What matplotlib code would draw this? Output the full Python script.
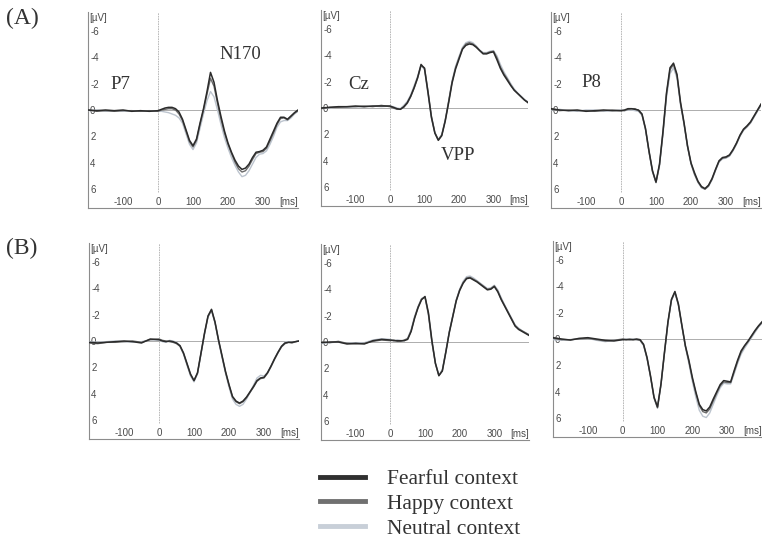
import matplotlib
matplotlib.use("Agg")
from matplotlib import pyplot as plt

plt.rcParams["font.family"] = ["Liberation Sans", "DejaVu Sans"]

# time axis (ms), coarse in the baseline
times = [-200, -175, -150, -125, -100, -75, -50, -25, 0,
         10, 20, 30, 40, 50, 60, 70, 80, 90, 100,
         110, 120, 130, 140, 150, 160, 170, 180, 190, 200,
         210, 220, 230, 240, 250, 260, 270, 280, 290, 300,
         310, 320, 330, 340, 350, 360, 370, 380, 390, 400]

# (A) P7
a_p7_fear = [0.0, 0.05, 0.0, 0.05, 0.0, 0.1, 0.05, 0.1, 0.05,
             -0.05, -0.15, -0.2, -0.2, -0.1, 0.15, 0.7, 1.5, 2.3, 2.7,
             2.2, 1.0, -0.1, -1.4, -2.85, -2.1, -0.7, 0.5, 1.6, 2.5,
             3.2, 3.8, 4.25, 4.5, 4.4, 4.1, 3.6, 3.2, 3.15, 3.05,
             2.8, 2.2, 1.6, 1.0, 0.55, 0.55, 0.7, 0.45, 0.2, 0.0]
a_p7_happy = [0.0, 0.1, 0.05, 0.1, 0.05, 0.05, 0.1, 0.05, 0.1,
              0.0, -0.05, -0.1, -0.1, 0.0, 0.3, 0.8, 1.6, 2.4, 2.8,
              2.3, 1.1, 0.0, -1.2, -2.4, -1.8, -0.5, 0.7, 1.75, 2.6,
              3.3, 3.95, 4.45, 4.7, 4.6, 4.25, 3.75, 3.3, 3.2, 3.15,
              2.9, 2.35, 1.75, 1.1, 0.65, 0.6, 0.75, 0.5, 0.25, 0.05]
a_p7_neut = [0.05, 0.0, 0.1, 0.05, 0.1, 0.05, 0.1, 0.05, 0.1,
             0.1, 0.15, 0.2, 0.3, 0.4, 0.6, 1.0, 1.8, 2.6, 3.0,
             2.5, 1.4, 0.3, -0.7, -1.4, -1.0, 0.0, 1.1, 2.1, 2.9,
             3.6, 4.2, 4.7, 5.05, 4.95, 4.6, 4.1, 3.6, 3.35, 3.3,
             3.1, 2.6, 2.0, 1.3, 0.9, 0.8, 0.8, 0.6, 0.3, 0.1]

# (A) Cz
a_cz_fear = [0.0, -0.05, -0.1, -0.1, -0.15, -0.1, -0.15, -0.15, -0.15,
             -0.05, 0.05, 0.1, -0.1, -0.4, -0.9, -1.55, -2.3, -3.3, -3.0,
             -1.2, 0.7, 1.9, 2.45, 2.1, 1.0, -0.4, -1.9, -2.95, -3.7,
             -4.45, -4.75, -4.85, -4.8, -4.6, -4.35, -4.1, -4.1, -4.2, -4.25,
             -3.65, -3.0, -2.5, -2.1, -1.7, -1.35, -1.1, -0.85, -0.6, -0.4]
a_cz_happy = [0.05, -0.05, -0.05, -0.1, -0.1, -0.15, -0.1, -0.2, -0.1,
              0.0, 0.1, 0.1, -0.05, -0.35, -0.85, -1.5, -2.25, -3.2, -3.05,
              -1.3, 0.6, 1.85, 2.4, 2.05, 0.95, -0.5, -2.0, -3.05, -3.8,
              -4.5, -4.85, -4.95, -4.85, -4.65, -4.35, -4.15, -4.15, -4.25, -4.3,
              -3.8, -3.1, -2.6, -2.2, -1.75, -1.35, -1.1, -0.85, -0.6, -0.45]
a_cz_neut = [0.0, 0.0, -0.1, -0.05, -0.1, -0.1, -0.15, -0.1, -0.15,
             -0.1, 0.0, 0.05, -0.2, -0.5, -1.0, -1.7, -2.4, -3.25, -2.9,
             -1.1, 0.75, 1.9, 2.4, 2.0, 0.9, -0.55, -2.05, -3.15, -3.9,
             -4.6, -4.95, -5.05, -4.95, -4.7, -4.4, -4.2, -4.2, -4.3, -4.35,
             -3.95, -3.3, -2.75, -2.3, -1.85, -1.45, -1.15, -0.9, -0.65, -0.45]

# (A) P8
a_p8_fear = [-0.1, 0.0, 0.05, 0.0, 0.1, 0.05, 0.0, 0.05, 0.05,
             0.0, -0.1, -0.1, -0.05, 0.0, 0.3, 1.4, 3.1, 4.6, 5.45,
             4.1, 1.6, -1.3, -3.2, -3.55, -2.7, -0.6, 0.95, 2.7, 4.0,
             4.75, 5.4, 5.8, 5.95, 5.7, 5.2, 4.5, 3.85, 3.6, 3.55,
             3.4, 3.0, 2.5, 1.9, 1.45, 1.2, 0.9, 0.45, 0.0, -0.45]
a_p8_happy = [-0.05, 0.05, 0.0, 0.05, 0.05, 0.1, 0.05, 0.0, 0.05,
              0.05, -0.05, -0.1, -0.1, 0.05, 0.35, 1.45, 3.15, 4.65, 5.5,
              4.15, 1.7, -1.2, -3.05, -3.45, -2.6, -0.5, 1.0, 2.75, 4.05,
              4.85, 5.45, 5.85, 6.0, 5.75, 5.25, 4.55, 3.9, 3.65, 3.6,
              3.45, 3.05, 2.55, 1.95, 1.5, 1.25, 0.95, 0.5, 0.05, -0.4]
a_p8_neut = [0.0, -0.05, 0.05, 0.1, 0.0, 0.0, 0.1, 0.05, 0.0,
             0.05, 0.0, 0.0, 0.05, 0.1, 0.4, 1.5, 3.2, 4.7, 5.5,
             4.25, 1.85, -0.95, -2.75, -3.2, -2.4, -0.4, 1.1, 2.8, 4.1,
             4.9, 5.5, 5.9, 6.0, 5.8, 5.3, 4.6, 3.95, 3.7, 3.65,
             3.5, 3.1, 2.6, 2.0, 1.55, 1.3, 1.0, 0.55, 0.1, -0.35]

# (B) P7
b_p7_fear = [0.1, 0.15, 0.1, 0.05, 0.0, 0.05, 0.15, -0.15, -0.1,
             0.0, 0.05, 0.0, 0.05, 0.15, 0.35, 0.9, 1.7, 2.5, 3.0,
             2.4, 0.9, -0.6, -1.9, -2.4, -1.45, -0.1, 1.1, 2.3, 3.3,
             4.2, 4.55, 4.7, 4.55, 4.25, 3.85, 3.45, 3.0, 2.8, 2.75,
             2.4, 1.9, 1.35, 0.85, 0.4, 0.15, 0.1, 0.1, 0.05, 0.0]
b_p7_happy = [0.15, 0.2, 0.1, 0.1, 0.05, 0.0, 0.1, -0.1, -0.15,
              -0.05, 0.0, 0.05, 0.1, 0.2, 0.4, 0.95, 1.75, 2.55, 3.0,
              2.45, 0.95, -0.55, -1.85, -2.35, -1.4, -0.05, 1.15, 2.35, 3.35,
              4.25, 4.6, 4.75, 4.6, 4.3, 3.9, 3.5, 3.05, 2.85, 2.8,
              2.45, 1.95, 1.4, 0.9, 0.45, 0.2, 0.1, 0.15, 0.05, 0.0]
b_p7_neut = [0.05, 0.1, 0.05, 0.0, 0.05, 0.1, 0.05, -0.1, -0.05,
             0.05, 0.1, -0.05, 0.0, 0.1, 0.4, 1.0, 1.85, 2.65, 3.1,
             2.5, 1.0, -0.5, -1.8, -2.3, -1.35, 0.0, 1.25, 2.45, 3.5,
             4.4, 4.8, 4.95, 4.8, 4.4, 3.9, 3.35, 2.8, 2.6, 2.65,
             2.4, 1.9, 1.35, 0.85, 0.4, 0.1, 0.05, 0.1, 0.05, 0.0]

# (B) Cz
b_cz_fear = [0.05, 0.0, 0.0, 0.15, 0.1, 0.15, -0.1, -0.2, -0.15,
             -0.1, -0.1, -0.1, -0.1, -0.2, -0.8, -1.8, -2.6, -3.2, -3.45,
             -2.2, -0.1, 1.6, 2.55, 2.2, 0.8, -0.7, -1.9, -3.1, -3.9,
             -4.45, -4.8, -4.85, -4.7, -4.55, -4.35, -4.15, -3.95, -4.0, -4.2,
             -3.8, -3.2, -2.7, -2.2, -1.7, -1.2, -0.95, -0.8, -0.65, -0.5]
b_cz_happy = [0.0, 0.05, -0.05, 0.1, 0.15, 0.1, -0.05, -0.15, -0.1,
              -0.15, -0.05, -0.05, -0.15, -0.25, -0.85, -1.85, -2.65, -3.25, -3.4,
              -2.1, 0.0, 1.65, 2.55, 2.15, 0.75, -0.75, -1.95, -3.15, -3.95,
              -4.5, -4.85, -4.9, -4.75, -4.6, -4.4, -4.2, -4.0, -4.05, -4.25,
              -3.85, -3.25, -2.75, -2.25, -1.75, -1.25, -1.0, -0.85, -0.7, -0.55]
b_cz_neut = [0.1, 0.05, 0.0, 0.1, 0.05, 0.05, -0.15, -0.25, -0.2,
             -0.1, -0.15, -0.1, -0.1, -0.3, -0.95, -1.95, -2.7, -3.3, -3.4,
             -2.0, 0.05, 1.6, 2.5, 2.1, 0.7, -0.8, -2.0, -3.2, -4.0,
             -4.6, -4.95, -5.0, -4.85, -4.65, -4.45, -4.25, -4.05, -4.1, -4.3,
             -3.95, -3.35, -2.8, -2.3, -1.8, -1.3, -1.05, -0.85, -0.7, -0.55]

# (B) P8
b_p8_fear = [-0.1, 0.0, 0.08, -0.05, -0.1, 0.0, 0.1, 0.15, 0.05,
             0.05, 0.05, 0.05, 0.0, 0.05, 0.4, 1.4, 2.8, 4.4, 5.15,
             3.4, 1.0, -1.3, -3.0, -3.6, -2.65, -1.05, 0.5, 1.6, 2.9,
             4.0, 4.95, 5.35, 5.45, 5.15, 4.55, 4.0, 3.45, 3.15, 3.2,
             3.25, 2.4, 1.6, 0.9, 0.5, 0.15, -0.25, -0.65, -1.0, -1.3]
b_p8_happy = [-0.05, 0.05, 0.05, 0.0, -0.05, 0.05, 0.15, 0.1, 0.0,
              0.05, 0.0, 0.05, 0.05, 0.1, 0.45, 1.45, 2.85, 4.45, 5.2,
              3.45, 1.05, -1.25, -2.95, -3.55, -2.6, -1.0, 0.55, 1.7, 3.0,
              4.1, 5.05, 5.5, 5.6, 5.3, 4.7, 4.1, 3.55, 3.25, 3.3,
              3.3, 2.5, 1.7, 1.0, 0.55, 0.2, -0.2, -0.6, -0.95, -1.25]
b_p8_neut = [0.05, 0.1, 0.05, 0.0, -0.05, 0.1, 0.2, 0.1, 0.05,
             0.0, 0.05, 0.0, 0.05, 0.1, 0.5, 1.5, 2.9, 4.5, 5.25,
             3.5, 1.1, -1.2, -2.9, -3.5, -2.55, -0.95, 0.6, 1.85, 3.2,
             4.4, 5.4, 5.85, 5.95, 5.6, 4.95, 4.3, 3.7, 3.35, 3.4,
             3.4, 2.65, 1.85, 1.15, 0.7, 0.3, -0.1, -0.5, -0.9, -1.2]

conditions = ["Fearful context", "Happy context", "Neutral context"]
line_colors = ["#2b2b2b", "#6a6a6a", "#bcc4ce"]
line_widths = [1.1, 1.0, 1.0]

xtick_vals = [-100, 0, 100, 200, 300]
xtick_labels = ["-100", "0", "100", "200", "300"]
ytick_vals = [-6, -4, -2, 0, 2, 4, 6]
ytick_labels = ["-6", "-4", "-2", "0", "2", "4", "6"]

W, H = 762, 542
PX_PER_UV = 13.2
HALF = 7.4


def rect(left, zero_y, width):
  # pixel placement of one panel -> figure fractions
  h = HALF * PX_PER_UV
  return [left / W, 1 - (zero_y + h) / H, width / W, 2 * h / H]


def draw_panel(ax, waves, name, name_xy, comp=None, comp_xy=None):
  ax.set_xlim(-200, 400)
  ax.set_ylim(HALF, -HALF)  # negative up
  ax.patch.set_alpha(0)
  for s in ["top", "right"]:
    ax.spines[s].set_visible(False)
  for s in ["left", "bottom"]:
    ax.spines[s].set_color("#8c8c8c")
    ax.spines[s].set_linewidth(0.8)

  ax.axhline(0, color="#a0a0a0", lw=0.6, zorder=1)
  ax.vlines(0, 6.2, -HALF, color="#b0b0b0", lw=0.6, linestyles=(0, (2, 1)), zorder=1)

  # neutral first so the darker traces sit on top
  for wave, c, lw in list(zip(waves, line_colors, line_widths))[::-1]:
    ax.plot(times, wave, color=c, lw=lw, zorder=3)

  ax.set_xticks(xtick_vals + [372], xtick_labels + ["[ms]"])
  ax.set_yticks(ytick_vals, ytick_labels)
  ax.tick_params(axis="x", length=0, pad=-8, labelsize=7, labelcolor="#4a4a4a")
  ax.tick_params(axis="y", length=0, pad=-1.5, labelsize=7, labelcolor="#4a4a4a")
  for lab in ax.get_yticklabels():
    lab.set_horizontalalignment("left")
  ax.text(-197, -6.95, "[µV]", fontsize=7, color="#4a4a4a", ha="left", va="center")

  ax.text(name_xy[0], name_xy[1], name, fontsize=13.5, color="#333333",
          family="Liberation Serif", ha="center", va="center")
  if comp:
    ax.text(comp_xy[0], comp_xy[1], comp, fontsize=13.5, color="#333333",
            family="Liberation Serif", ha="center", va="center")


def main():
  fig = plt.figure(figsize=(W / 100, H / 100), dpi=100)

  panels = [
    (rect(88, 110, 210), [a_p7_fear, a_p7_happy, a_p7_neut], "P7", (-108, -1.9), "N170", (236, -4.2)),
    (rect(321, 108, 207), [a_cz_fear, a_cz_happy, a_cz_neut], "Cz", (-90, -1.75), "VPP", (196, 3.6)),
    (rect(551, 110, 210), [a_p8_fear, a_p8_happy, a_p8_neut], "P8", (-84, -2.1), None, None),
    (rect(89, 341, 210), [b_p7_fear, b_p7_happy, b_p7_neut], None, None, None, None),
    (rect(321, 342, 208), [b_cz_fear, b_cz_happy, b_cz_neut], None, None, None, None),
    (rect(553, 339, 209), [b_p8_fear, b_p8_happy, b_p8_neut], None, None, None, None),
  ]
  for box, waves, name, name_xy, comp, comp_xy in panels:
    ax = fig.add_axes(box)
    draw_panel(ax, waves, name or "", name_xy or (0, 0), comp, comp_xy)
    last = ax

  fig.text(6 / W, 1 - 18 / H, "(A)", fontsize=17, family="Liberation Serif",
           color="#333333", va="center")
  fig.text(6 / W, 1 - 248 / H, "(B)", fontsize=17, family="Liberation Serif",
           color="#333333", va="center")

  handles = last.get_lines()[::-1][:3]
  leg = fig.legend(handles, conditions, loc="upper left",
                   bbox_to_anchor=(320 / W, 1 - 469 / H), frameon=False,
                   prop={"family": "Liberation Serif", "size": 15.5},
                   labelcolor="#333333", handlelength=2.1, handletextpad=1.0,
                   labelspacing=0.22, borderpad=0, borderaxespad=0)
  for h, c in zip(leg.legend_handles, ["#303030", "#707070", "#c8cfd8"]):
    h.set_linewidth(3.5)
    h.set_color(c)

  fig.savefig("out.png", dpi=100)


if __name__ == "__main__":
  main()
